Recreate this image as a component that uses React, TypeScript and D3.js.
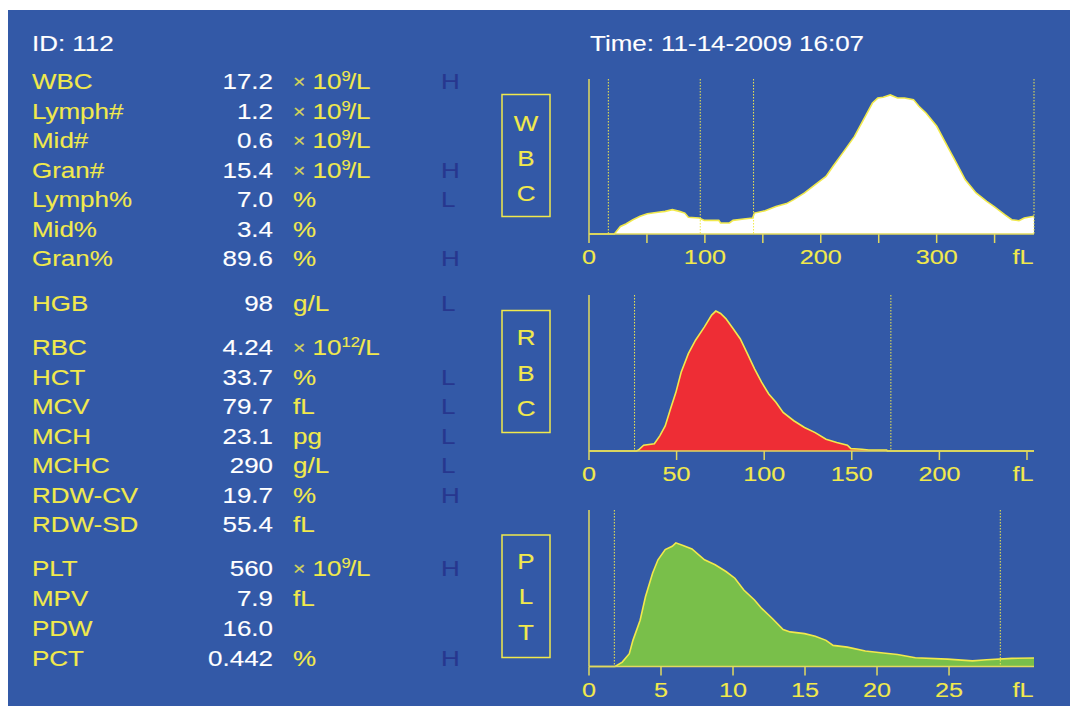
import React from "react";
import * as d3 from "d3";

// ---------- data ----------
const headerId = "ID: 112";
const headerTime = "Time: 11-14-2009 16:07";

const paramNames = ["WBC", "Lymph#", "Mid#", "Gran#", "Lymph%", "Mid%", "Gran%", "HGB", "RBC", "HCT", "MCV", "MCH", "MCHC", "RDW-CV", "RDW-SD", "PLT", "MPV", "PDW", "PCT"];
const paramValues = ["17.2", "1.2", "0.6", "15.4", "7.0", "3.4", "89.6", "98", "4.24", "33.7", "79.7", "23.1", "290", "19.7", "55.4", "560", "7.9", "16.0", "0.442"];
const paramUnits = ["x109", "x109", "x109", "x109", "%", "%", "%", "g/L", "x1012", "%", "fL", "pg", "g/L", "%", "fL", "x109", "fL", "", "%"];
const paramFlags = ["H", "", "", "H", "L", "", "H", "L", "", "L", "L", "L", "L", "H", "", "H", "", "", "H"];
const rowBaselines = [89, 118.5, 148, 177.5, 207, 236.5, 266, 311, 355, 384.5, 414, 443.5, 473, 502.5, 532, 576, 606, 636, 666];

// WBC histogram: [fL, relative height 0-100]
const wbcSize = [0, 16, 21.9, 27.1, 31.8, 37.9, 44.1, 50.3, 59.5, 65.7, 71.9, 78.0, 82.7, 85.7, 95.0, 99.6, 112, 113.5, 121.2, 124.3, 133.5, 141.2, 142.8, 152, 161.3, 170.5, 176.7, 186, 195.2, 204.5, 210.6, 219.9, 229.1, 238.4, 244.6, 249.2, 253.8, 260, 266.2, 272.3, 280, 284.7, 290.8, 300.1, 309.3, 315.5, 324.7, 334, 343.2, 349.4, 358.7, 364.8, 371, 375.6, 384];
const wbcCount = [0, 0, 0, 4.9, 6.5, 9.2, 11.4, 13.1, 14.0, 14.6, 15.7, 14.6, 13.5, 10.8, 10.3, 8.8, 8.8, 7.1, 7.1, 8.8, 9.7, 10.3, 13.5, 15, 17.8, 19.6, 22.2, 26.5, 31.8, 37.2, 43.7, 53.3, 63, 75.9, 84.5, 87.7, 88.2, 89.7, 87.7, 87.7, 86.7, 82.4, 78.1, 69.5, 56.6, 48, 35, 26.5, 21.1, 17.8, 12.5, 9.2, 8.6, 10.3, 11.4];
const wbcMarkers = [16.7, 96, 142, 384];
const wbcTicks = [0, 50, 100, 150, 200, 250, 300, 350];
const wbcTickLabels = [0, 100, 200, 300];

const rbcSize = [0, 27.1, 28.2, 31.2, 37.3, 40.4, 43.5, 46.5, 49.6, 52.6, 56.7, 60.8, 65.9, 70, 72.4, 75.1, 78.1, 82.2, 86.3, 90.4, 94.5, 98.5, 102.6, 106.7, 110.8, 116.9, 123, 129.1, 135.3, 141.4, 147.5, 149.5, 155.7, 159.7, 169.9, 170.3, 254];
const rbcCount = [0, 0, 0.6, 3.7, 4.7, 9.7, 16.1, 26.9, 37.6, 50.5, 62.4, 71, 79.6, 87.1, 89.7, 88.2, 84.9, 78.5, 72, 62.4, 52.7, 44.1, 36.6, 31.2, 24.7, 19.4, 15.1, 11.8, 7.5, 5.4, 3.7, 1.5, 1.1, 0.6, 0.6, 0, 0];
const rbcMarkers = [26, 172.3];
const rbcTicks = [0, 50, 100, 150, 200, 250];
const rbcTickLabels = [0, 50, 100, 150, 200];

const pltSize = [0, 1.81, 2.31, 2.8, 3.05, 3.55, 3.92, 4.42, 4.79, 5.29, 5.78, 6.03, 6.53, 7.15, 8.02, 8.76, 9.51, 10.13, 10.75, 11.49, 11.99, 12.73, 13.48, 13.97, 14.97, 15.71, 16.46, 16.95, 17.94, 19.19, 20.43, 21.42, 22.66, 24.89, 26.63, 27.62, 29.36, 30.9];
const pltCount = [0, 0, 2.8, 8.2, 16.7, 29.6, 44.6, 59.7, 68.2, 74.7, 76.8, 79, 77.3, 75.1, 68.2, 65, 60.7, 56.4, 48.9, 42.5, 37.1, 30.7, 23.6, 22.1, 21, 19.3, 16.7, 13.5, 12.4, 9.9, 8.6, 7.7, 5.6, 4.7, 3.6, 4.3, 5.2, 5.4];
const pltMarkers = [1.76, 28.56];
const pltTicks = [0, 5, 10, 15, 20, 25];
const pltTickLabels = [0, 5, 10, 15, 20, 25];

// ---------- style ----------
const BG = "#3359a7";
const YEL = "#f1e94c";
const AXIS = "#e2da5e";
const WHITE = "#ffffff";
const FLAG = "#27378f";
const FONT = "'Liberation Sans', Arial, sans-serif";
const SX = 1.18;

function T({ x, y, anchor = "start", fill = YEL, size = 22, sx = SX, children }: any) {
  return (
    <text transform={`translate(${x},${y}) scale(${sx},1)`} textAnchor={anchor} fill={fill} fontSize={size} fontFamily={FONT}
      stroke={fill} strokeWidth={0.12}>
      {children}
    </text>
  );
}

function Unit({ x, y, u }: any) {
  if (u === "x109" || u === "x1012") {
    const exp = u === "x109" ? "9" : "12";
    return (
      <T x={x} y={y}>
        <tspan fontSize={18} dy={-1} opacity={0.85}>×</tspan>
        <tspan dy={1}> 10</tspan>
        <tspan fontSize={14} dy={-8}>{exp}</tspan>
        <tspan dy={8} dx={-1.5}>/L</tspan>
      </T>
    );
  }
  return <T x={x} y={y}>{u}</T>;
}

type HistProps = {
  label: string[];
  top: number;
  base: number;
  boxTop: number;
  boxBottom: number;
  letterY: number[];
  max: number;
  sizes: number[];
  counts: number[];
  markers: number[];
  ticks: number[];
  tickLabels: number[];
  fill: string;
};

function Hist(p: HistProps) {
  const x = d3.scaleLinear().domain([0, p.max]).range([589, 1034]);
  const y = d3.scaleLinear().domain([0, 100]).range([p.base, p.top]);
  const pts = p.sizes.map((s, i) => [s, p.counts[i]] as [number, number]);
  const area = d3.area<[number, number]>().x((d) => x(d[0])).y0(p.base).y1((d) => y(d[1]));
  const line = d3.line<[number, number]>().x((d) => x(d[0])).y((d) => y(d[1]));
  return (
    <g>
      <rect x={502} y={p.boxTop} width={48} height={p.boxBottom - p.boxTop} fill="none" stroke={YEL} strokeWidth={1.5} />
      {p.label.map((l, i) => (
        <T key={i} x={526} y={p.letterY[i]} anchor="middle" size={22}>{l}</T>
      ))}
      <path d={area(pts) || ""} fill={p.fill} />
      <path d={line(pts) || ""} fill="none" stroke={YEL} strokeWidth={1.6} />
      {p.markers.map((m, i) => (
        <line key={i} x1={x(m)} x2={x(m)} y1={p.top} y2={p.base} stroke={YEL} strokeWidth={1} strokeDasharray="1.5,1.5" />
      ))}
      <line x1={589} x2={589} y1={p.top} y2={p.base} stroke={AXIS} strokeWidth={1.5} />
      <line x1={589} x2={1034} y1={p.base} y2={p.base} stroke={AXIS} strokeWidth={1.5} />
      {p.ticks.map((t, i) => (
        <line key={i} x1={x(t)} x2={x(t)} y1={p.base} y2={p.base + 9} stroke={AXIS} strokeWidth={1.5} />
      ))}
      {p.tickLabels.map((t, i) => (
        <T key={i} x={x(t)} y={p.base + 30} anchor="middle" size={21} sx={1.2}>{String(t)}</T>
      ))}
      <T x={1023} y={p.base + 30} anchor="middle" size={21} sx={1.2}>fL</T>
    </g>
  );
}

export default function App() {
  return (
    <svg width={1078} height={708} style={{ position: "absolute", left: 0, top: 0, display: "block" }}>
      <rect x={0} y={0} width={1078} height={708} fill="#ffffff" />
      <rect x={8} y={10} width={1062} height={696} fill={BG} />
      <T x={32} y={51} fill={WHITE}>{headerId}</T>
      <T x={590} y={51} fill={WHITE}>{headerTime}</T>
      {paramNames.map((n, i) => (
        <g key={n}>
          <T x={32} y={rowBaselines[i]}>{n}</T>
          <T x={273} y={rowBaselines[i]} anchor="end" fill={WHITE}>{paramValues[i]}</T>
          <Unit x={293} y={rowBaselines[i]} u={paramUnits[i]} />
          {paramFlags[i] && <T x={441} y={rowBaselines[i]} fill={FLAG}>{paramFlags[i]}</T>}
        </g>
      ))}
      <Hist label={["W", "B", "C"]} top={79} base={234} boxTop={94.5} boxBottom={216.5} letterY={[131, 166, 201]} max={384}
        sizes={wbcSize} counts={wbcCount} markers={wbcMarkers} ticks={wbcTicks} tickLabels={wbcTickLabels} fill="#ffffff" />
      <Hist label={["R", "B", "C"]} top={295} base={451} boxTop={310.5} boxBottom={432.5} letterY={[345, 380.5, 416]} max={254}
        sizes={rbcSize} counts={rbcCount} markers={rbcMarkers} ticks={rbcTicks} tickLabels={rbcTickLabels} fill="#ee2d35" />
      <Hist label={["P", "L", "T"]} top={510} base={666.5} boxTop={535} boxBottom={657.5} letterY={[568.5, 604, 639.5]} max={30.9}
        sizes={pltSize} counts={pltCount} markers={pltMarkers} ticks={pltTicks} tickLabels={pltTickLabels} fill="#79bf4a" />
    </svg>
  );
}
